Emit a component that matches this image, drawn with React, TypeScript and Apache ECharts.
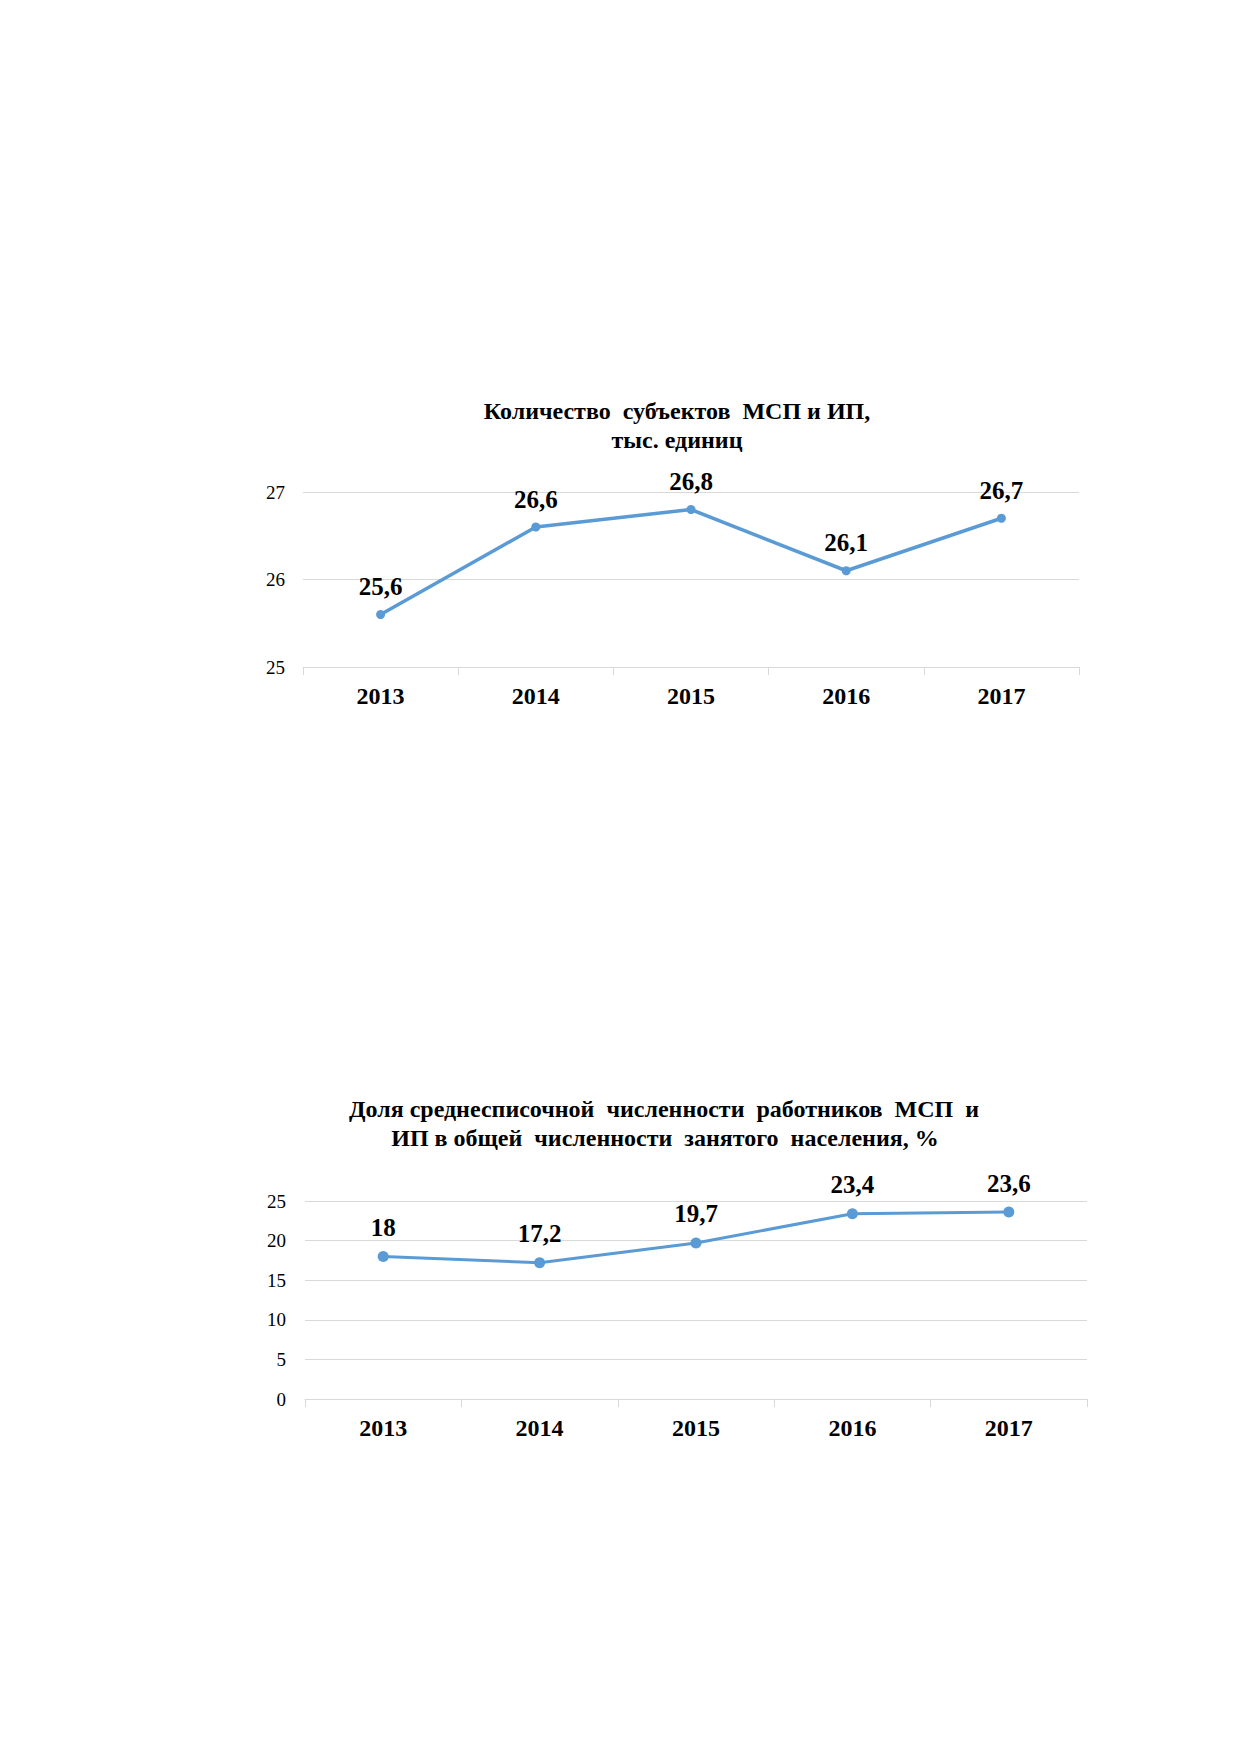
import React, { useEffect, useRef } from "react";
import * as echarts from "echarts";

const years = ["2013", "2014", "2015", "2016", "2017"];
const subjectsValues = [25.6, 26.6, 26.8, 26.1, 26.7];
const shareValues = [18, 17.2, 19.7, 23.4, 23.6];
const title1Lines = ["Количество  субъектов  МСП и ИП,", "тыс. единиц"];
const title2Lines = ["Доля среднесписочной  численности  работников  МСП  и", "ИП в общей  численности  занятого  населения, %"];

const FONT = '"Liberation Serif", "Times New Roman", serif';
const BLUE = "#5B9BD5";
const GRID = "#D9D9D9";

const fmt = (v: number) => String(v).replace(".", ",");

function xAxis(gridIndex: number) {
  return {
    type: "category",
    gridIndex,
    data: years,
    boundaryGap: true,
    axisLine: { show: true, lineStyle: { color: GRID, width: 1 } },
    axisTick: { show: true, alignWithLabel: false, length: 8, lineStyle: { color: GRID } },
    axisLabel: { margin: 17, fontFamily: FONT, fontSize: 24, fontWeight: "bold", color: "#000" },
    splitLine: { show: false },
  };
}

function yAxis(gridIndex: number, min: number, max: number, interval: number, margin: number) {
  return {
    type: "value",
    gridIndex,
    min,
    max,
    interval,
    axisLine: { show: false },
    axisTick: { show: false },
    axisLabel: { margin, fontFamily: FONT, fontSize: 19, color: "#000" },
    splitLine: { show: true, lineStyle: { color: GRID, width: 1 } },
  };
}

function lineSeries(idx: number, data: number[], width: number, size: number, dist: number) {
  return {
    type: "line",
    xAxisIndex: idx,
    yAxisIndex: idx,
    data,
    symbol: "circle",
    symbolSize: size,
    lineStyle: { color: BLUE, width },
    itemStyle: { color: BLUE },
    label: {
      show: true,
      position: "top",
      distance: dist,
      fontFamily: FONT,
      fontSize: 25,
      fontWeight: "bold",
      color: "#000",
      formatter: (p: any) => fmt(p.value),
    },
  };
}

function titleText(text: string, x: number, y: number) {
  return {
    type: "text",
    x,
    y,
    style: {
      text,
      fill: "#000",
      font: `bold 24px ${FONT}`,
      textAlign: "center",
      textVerticalAlign: "middle",
    },
  };
}

export default function App() {
  const ref = useRef<HTMLDivElement>(null);
  useEffect(() => {
    document.body.style.margin = "0";
    const chart = echarts.init(ref.current!, undefined, { renderer: "svg" });
    chart.setOption({
      animation: false,
      backgroundColor: "#fff",
      grid: [
        { left: 303, top: 492, width: 776, height: 175, containLabel: false },
        { left: 305, top: 1201, width: 782, height: 198, containLabel: false },
      ],
      xAxis: [xAxis(0), xAxis(1)],
      yAxis: [yAxis(0, 25, 27, 1, 18), yAxis(1, 0, 25, 5, 19)],
      series: [lineSeries(0, subjectsValues, 3.5, 9, 11), lineSeries(1, shareValues, 3, 11, 11)],
      graphic: [
        titleText(title1Lines[0], 677, 411),
        titleText(title1Lines[1], 677, 440),
        titleText(title2Lines[0], 664, 1109),
        titleText(title2Lines[1], 665, 1138),
      ],
    });
    return () => chart.dispose();
  }, []);
  return <div ref={ref} style={{ width: 1239, height: 1752 }} />;
}
